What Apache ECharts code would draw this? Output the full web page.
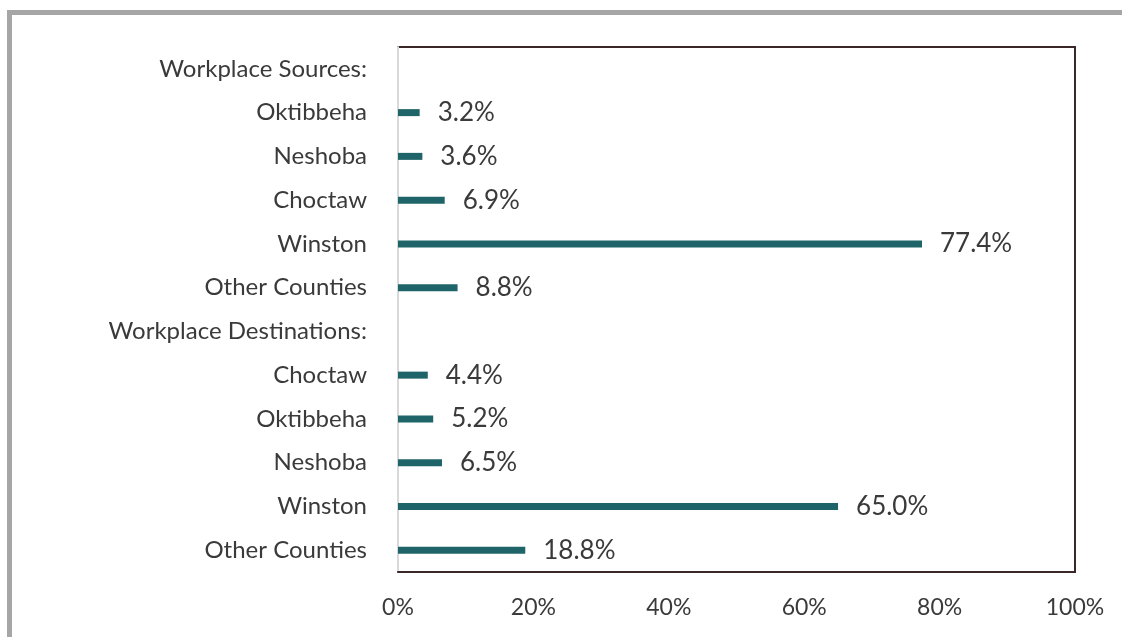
<!DOCTYPE html>
<html>
<head>
<meta charset="utf-8">
<script src="https://cdn.jsdelivr.net/npm/echarts@6/dist/echarts.min.js"></script>
<style>
html,body{margin:0;padding:0;background:#fff;}
#chart{width:1122px;height:637px;}
</style>
</head>
<body>
<div id="chart"></div>
<script>
const categories = [
  'Workplace Sources:', 'Oktibbeha', 'Neshoba', 'Choctaw', 'Winston', 'Other Counties',
  'Workplace Destinations:', 'Choctaw', 'Oktibbeha', 'Neshoba', 'Winston', 'Other Counties'
];
const values = [null, 3.2, 3.6, 6.9, 77.4, 8.8, null, 4.4, 5.2, 6.5, 65.0, 18.8];
const xTicks = [0, 20, 40, 60, 80, 100];

const chart = echarts.init(document.getElementById('chart'));
const font = 'Lato, "Open Sans", sans-serif';
chart.setOption({
  backgroundColor: '#ffffff',
  animation: false,
  graphic: [
    { type: 'rect', shape: { x: 7, y: 10, width: 1115, height: 5 }, style: { fill: '#a6a6a6' }, silent: true },
    { type: 'rect', shape: { x: 7, y: 10, width: 5, height: 627 }, style: { fill: '#a6a6a6' }, silent: true }
  ],
  grid: {
    left: 398, right: 47, top: 47, bottom: 65,
    show: true, borderColor: '#3a2828', borderWidth: 2, backgroundColor: 'transparent'
  },
  xAxis: {
    type: 'value', min: xTicks[0], max: xTicks[xTicks.length - 1], interval: 20,
    axisLine: { show: true, lineStyle: { color: '#3a2828', width: 2 } },
    axisTick: { show: false },
    splitLine: { show: false },
    axisLabel: { formatter: '{value}%', color: '#3a3a3a', fontSize: 23, fontFamily: font, margin: 24 }
  },
  yAxis: {
    type: 'category', inverse: true, data: categories,
    axisLine: { show: true, onZero: false, lineStyle: { color: '#d9d9d9', width: 2 } },
    axisTick: { show: false },
    axisLabel: { color: '#3a3a3a', fontSize: 24, fontFamily: font, margin: 31 }
  },
  series: [{
    type: 'bar', data: values, barWidth: 7,
    itemStyle: { color: '#1f6469' },
    label: {
      show: true, position: 'right', distance: 18,
      formatter: p => p.value == null ? '' : p.value.toFixed(1) + '%',
      color: '#3a3a3a', fontSize: 26, fontFamily: font
    }
  }]
});
</script>
</body>
</html>
